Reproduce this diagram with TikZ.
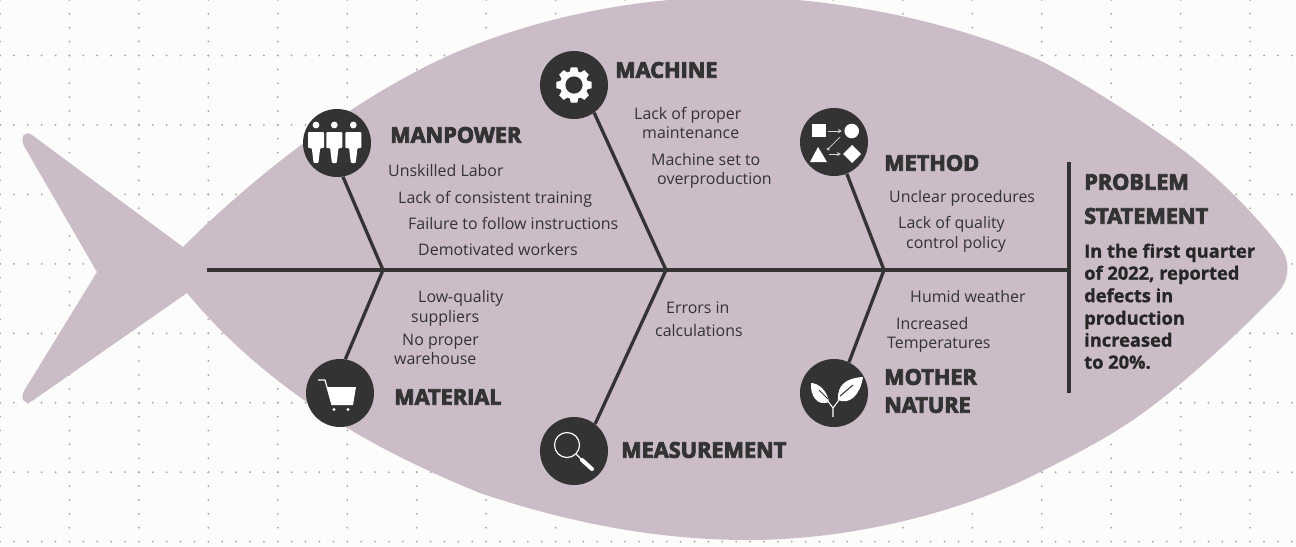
\documentclass[tikz,border=0pt]{standalone}
\usepackage{fontspec}
\setmainfont{Open Sans}
\newfontfamily\headfont[FakeBold=4]{Open Sans Bold}
\newfontfamily\stmtfont[FakeBold=1]{Open Sans Bold}
\definecolor{ink}{HTML}{333333}
\definecolor{fishc}{HTML}{CBBCC7}
\definecolor{paper}{HTML}{FCFCFB}
\definecolor{dotc}{HTML}{ABA39C}
\tikzset{
  x=0.03cm,y=-0.03cm,
  body/.style={font=\fontsize{13.6}{16}\selectfont,text=ink,anchor=west,inner sep=0pt,text height=11pt,text depth=3pt,yshift=-0.85pt},
  head/.style={font=\headfont\fontsize{18.5}{24}\selectfont,text=ink,anchor=west,inner sep=0pt,text height=13.2pt,text depth=0pt},
  stmt/.style={font=\stmtfont\fontsize{15.6}{18}\selectfont,text=black!85,anchor=west,inner sep=0pt,text height=12pt,text depth=4pt},
  disc/.style={circle,fill=ink,minimum size=2.04cm,inner sep=0pt},
  bone/.style={draw=ink,line width=2.8pt},
  ico/.style={fill=white,draw=none},
}
\begin{document}
\begin{tikzpicture}
\useasboundingbox (0,0) rectangle (1296,546);
\fill[paper] (0,0) rectangle (1296,546);
% dotted grid
\foreach \gx in {0,69.45,...,1296}{\foreach \dy in {0,...,39}{\fill[dotc] (\gx,-14+13.89*\dy) circle (1);}}
\foreach \gy in {55.5,124.95,194.4,263.85,333.3,402.75,472.2,541.65}{\foreach \dx in {0,...,93}{\fill[dotc] (13.89*\dx,\gy) circle (1);}}
% fish
\fill[fishc] (183,247)
  .. controls (250,180) and (350,100) .. (450,55)
  .. controls (530,20) and (630,-3) .. (735,-3)
  .. controls (830,-3) and (950,20) .. (1039,60)
  .. controls (1085,83) and (1130,113) .. (1173,143)
  .. controls (1215,172) and (1262,222) .. (1280,247)
  .. controls (1290,260) and (1290,277) .. (1280,290)
  .. controls (1262,310) and (1200,370) .. (1160,400)
  .. controls (1120,432) and (1080,452) .. (1038,473)
  .. controls (970,508) and (860,540) .. (748,540)
  .. controls (650,540) and (560,520) .. (480,493)
  .. controls (400,460) and (280,405) .. (187,293)
  -- (32,401)
  .. controls (24,406) and (20,398) .. (24,391)
  -- (97,272)
  -- (24,146)
  .. controls (20,137) and (24,130) .. (32,135)
  -- cycle;
% coordinates
\coordinate (spineL) at (207,270);
\coordinate (spineR) at (1069,270);
\coordinate (j1) at (383,270);
\coordinate (j2) at (666,270);
\coordinate (j3) at (884,270);
\coordinate (barT) at (1069,162);
\coordinate (barB) at (1069,393);
\draw[bone] (spineL) -- (spineR);
\draw[bone] (barT) -- (barB);
% discs
\node[disc] (manpower) at (337,143) {};
\node[disc] (machine) at (574,85) {};
\node[disc] (method) at (834,142) {};
\node[disc] (material) at (340,393) {};
\node[disc] (measure) at (574,451) {};
\node[disc] (nature) at (834,393) {};
\draw[bone] (j1) -- (manpower.280);
\draw[bone] (j1) -- (material.81);
\draw[bone] (j2) -- (machine.306);
\draw[bone] (j2) -- (measure.52);
\draw[bone] (j3) -- (method.292);
\draw[bone] (j3) -- (nature.64);
% manpower icon
\foreach \ox in {-21,-2.7,16.3}{
 \begin{scope}[shift={(337+\ox,143)}]
  \fill[ico] (0,-18) circle (3.4);
  \fill[ico,rounded corners=0.8] (-8,-11) -- (8,-11) -- (8,5) -- (4.2,5) -- (2.4,20) -- (-2.4,20) -- (-4.2,5) -- (-8,5) -- cycle;
 \end{scope}}
% machine icon: gear
\begin{scope}[shift={(574,85)}]
 \foreach \a in {0,45,...,315}{\fill[ico,rotate=\a] (-3.2,-17.7) -- (3.2,-17.7) -- (4.6,-12) -- (-4.6,-12) -- cycle;}
 \fill[ico] (0,0) circle (14);
 \fill[ink] (0,0) circle (8.6);
\end{scope}
% method icon
\begin{scope}[shift={(834,142)}]
 \fill[ico] (-22,-18) rectangle (-8,-5);
 \fill[ico] (17.7,-11) circle (7.3);
 \fill[ico] (-16,5) -- (-7,20) -- (-24,20) -- cycle;
 \fill[ico] (18,3) -- (27,12) -- (18,21) -- (9,12) -- cycle;
 \draw[white!80!ink,line width=.6pt,-stealth] (-6,-11) -- (8,-11);
 \draw[white!80!ink,line width=.6pt,-stealth] (-5,12) -- (7,12);
 \draw[white!80!ink,line width=.6pt] (6,-5) -- (-6,7);
 \fill[white!80!ink] (-6,7) circle (1.5);
\end{scope}
% material icon: cart
\begin{scope}[shift={(340,393)}]
 \draw[white,line width=1pt] (-22,-13) -- (-15,-13) -- (-8,12);
 \fill[ico] (-13,-6) -- (16,-6) -- (13,12) -- (-8,12) -- cycle;
 \fill[ico] (-6,16.5) circle (1.7);
 \fill[ico] (8,16.5) circle (1.7);
\end{scope}
% measurement icon: magnifier
\begin{scope}[shift={(574,451)}]
 \draw[white,line width=1pt] (-7,-6) circle (12.5);
 \draw[white,line width=1pt] (2,3) -- (9,10);
 \draw[white,line width=3.4pt,line cap=round] (8,9) -- (18,18);
\end{scope}
% nature icon: plant
\begin{scope}[shift={(834,393)}]
 \fill[ico] (-5,9) .. controls (-7,-3) and (-16,-10) .. (-23,-10) .. controls (-24,2) and (-17,14) .. (-5,9) -- cycle;
 \fill[ico] (4,7) .. controls (3,-8) and (12,-15) .. (29,-16) .. controls (26,2) and (16,12) .. (4,7) -- cycle;
 \draw[ink,line width=.9pt] (-15,-3) -- (-6,6);
 \draw[ink,line width=.9pt] (19,-8) -- (6,3);
 \draw[white,line width=.9pt] (-1,24) -- (-1,15) -- (-7,7);
 \draw[white,line width=.9pt] (-1,15) -- (5,7);
\end{scope}
% headings
\node[head] (h1) at (390,135) {MANPOWER};
\node[head] (h2) at (615,70) {MACHINE};
\node[head] (h3) at (884,163) {METHOD};
\node[head] (h4) at (394,397) {MATERIAL};
\node[head] (h5) at (621,450) {MEASUREMENT};
\node[head] (h6a) at (884,377) {MOTHER};
\node[head] (h6b) at (884,405) {NATURE};
\node[head] (h7a) at (1084,182) {PROBLEM};
\node[head] (h7b) at (1084,216) {STATEMENT};
% body texts
\node[body] (t1) at (388,171) {Unskilled Labor};
\node[body] (t2) at (398,198) {Lack of consistent training};
\node[body] (t3) at (408,224) {Failure to follow instructions};
\node[body] (t4) at (418,250) {Demotivated workers};
\node[body] (t5) at (634,114) {Lack of proper};
\node[body] (t6) at (642,133) {maintenance};
\node[body] (t7) at (651,160) {Machine set to};
\node[body] (t8) at (657,179) {overproduction};
\node[body] (t9) at (889,197) {Unclear procedures};
\node[body] (t10) at (898,223) {Lack of quality};
\node[body] (t11) at (906,243) {control policy};
\node[body] (t12) at (418,297) {Low-quality};
\node[body] (t13) at (411,317) {suppliers};
\node[body] (t14) at (402,340) {No proper};
\node[body] (t15) at (394,359) {warehouse};
\node[body] (t16) at (666,308) {Errors in};
\node[body] (t17) at (655,331) {calculations};
\node[body] (t18) at (910,297) {Humid weather};
\node[body] (t19) at (896,324) {Increased};
\node[body] (t20) at (887,343) {Temperatures};
% statement
\node[stmt] (s1) at (1084,253) {In the first quarter};
\node[stmt] (s2) at (1084,275) {of 2022, reported};
\node[stmt] (s3) at (1084,297.5) {defects in};
\node[stmt] (s4) at (1084,320) {production};
\node[stmt] (s5) at (1084,342) {increased};
\node[stmt] (s6) at (1084,364) {to 20\%.};
\end{tikzpicture}
\end{document}
